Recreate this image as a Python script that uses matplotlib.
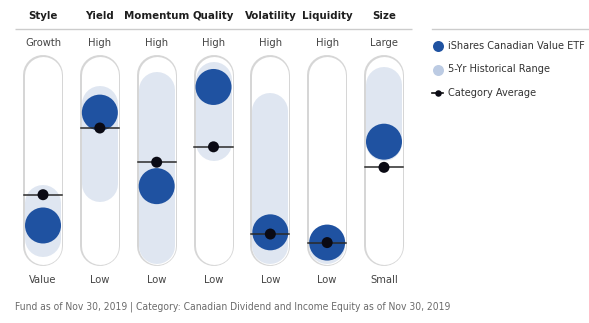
import matplotlib
matplotlib.use("Agg")
import matplotlib.pyplot as plt
from matplotlib.lines import Line2D

plt.rcParams['font.family'] = ['DejaVu Sans']
plt.rcParams['font.stretch'] = 'condensed'

# factor profile, 0 = bottom of scale, 100 = top
factors = ['Style', 'Yield', 'Momentum', 'Quality', 'Volatility', 'Liquidity', 'Size']
top_labels = ['Growth', 'High', 'High', 'High', 'High', 'High', 'Large']
bottom_labels = ['Value', 'Low', 'Low', 'Low', 'Low', 'Low', 'Small']
fund_values = [12, 78, 35, 93, 8, 2, 61]
category_avg = [30, 69, 49, 58, 7, 2, 46]
range_low = [4, 36, 0, 60, 0, 0, 60]
range_high = [25, 83, 91, 97, 79, 2, 94]

fund_name = 'iShares Canadian Value ETF'
footer = 'Fund as of Nov 30, 2019 | Category: Canadian Dividend and Income Equity as of Nov 30, 2019'

FUND_BLUE = '#1f52a1'
RANGE_BLUE = '#dfe6f1'
LEGEND_RANGE = '#bccbe3'
TUBE_EDGE = '#d6d6d6'

W, H = 589, 323
fig = plt.figure(figsize=(W / 100, H / 100), dpi=100)
fig.patch.set_facecolor('white')

px = 0.72  # points per pixel at 100 dpi
ax = fig.add_axes([14.6 / W, (H - 246) / H, 397.8 / W, 171 / H])
ax.set_xlim(-0.5, len(factors) - 0.5)
ax.set_ylim(0, 100)
ax.axis('off')

for i, name in enumerate(factors):
    # tube: grey outline, white inside, rounded ends via cap style
    ax.plot([i, i], [0, 100], color=TUBE_EDGE, lw=40 * px,
            solid_capstyle='round', zorder=1, clip_on=False)
    ax.plot([i, i], [0, 100], color='white', lw=37 * px,
            solid_capstyle='round', zorder=2, clip_on=False)
    # five year range
    ax.plot([i, i], [range_low[i], range_high[i]], color=RANGE_BLUE,
            lw=36 * px, solid_capstyle='round', zorder=3, clip_on=False)

    ax.text(i, 134.5, name, ha='center', va='center', fontsize=8.2,
            fontweight='bold', color='#1e1e1e', clip_on=False)
    ax.text(i, 118.5, top_labels[i], ha='center', va='center', fontsize=8,
            color='#444444', clip_on=False)
    ax.text(i, -20, bottom_labels[i], ha='center', va='center', fontsize=8,
            color='#444444', clip_on=False)

x = list(range(len(factors)))
ax.scatter(x, fund_values, s=(36 * px) ** 2, color=FUND_BLUE,
           edgecolors='none', zorder=4, clip_on=False)
for i, v in enumerate(category_avg):
    ax.plot([i - 0.335, i + 0.335], [v, v], color='#2a2a2a', lw=1.1, zorder=5)
ax.scatter(x, category_avg, s=(11 * px) ** 2, color='#0a0a14',
           edgecolors='none', zorder=6, clip_on=False)

# rule under the column headers
ax.plot([-0.5, len(factors) - 0.5], [127, 127], color='#cccccc', lw=1,
        clip_on=False, solid_capstyle='butt')

# legend on the right
fig.add_artist(Line2D([432 / W, 1.0], [1 - 29 / H, 1 - 29 / H],
                      color='#cccccc', lw=1))
legend_items = [
    (fund_name, FUND_BLUE, 11),
    ('5-Yr Historical Range', LEGEND_RANGE, 11),
    ('Category Average', '#0a0a14', 6.5),
]
for k, (label, color, size) in enumerate(legend_items):
    yy = 1 - (46 + 23.5 * k) / H
    if k == 2:
        fig.add_artist(Line2D([432 / W, 443 / W], [yy, yy], color='#111111', lw=1.2))
    fig.add_artist(Line2D([437.5 / W], [yy], marker='o', markersize=size * px,
                          color=color, markeredgewidth=0, linestyle='none'))
    fig.text(448 / W, yy, label, ha='left', va='center', fontsize=7.8,
             color='#333333')

fig.text(15 / W, 1 - 307 / H, footer, ha='left', va='center', fontsize=7.4,
         color='#6b6b6b')

fig.savefig('out.png', dpi=100, facecolor='white')
